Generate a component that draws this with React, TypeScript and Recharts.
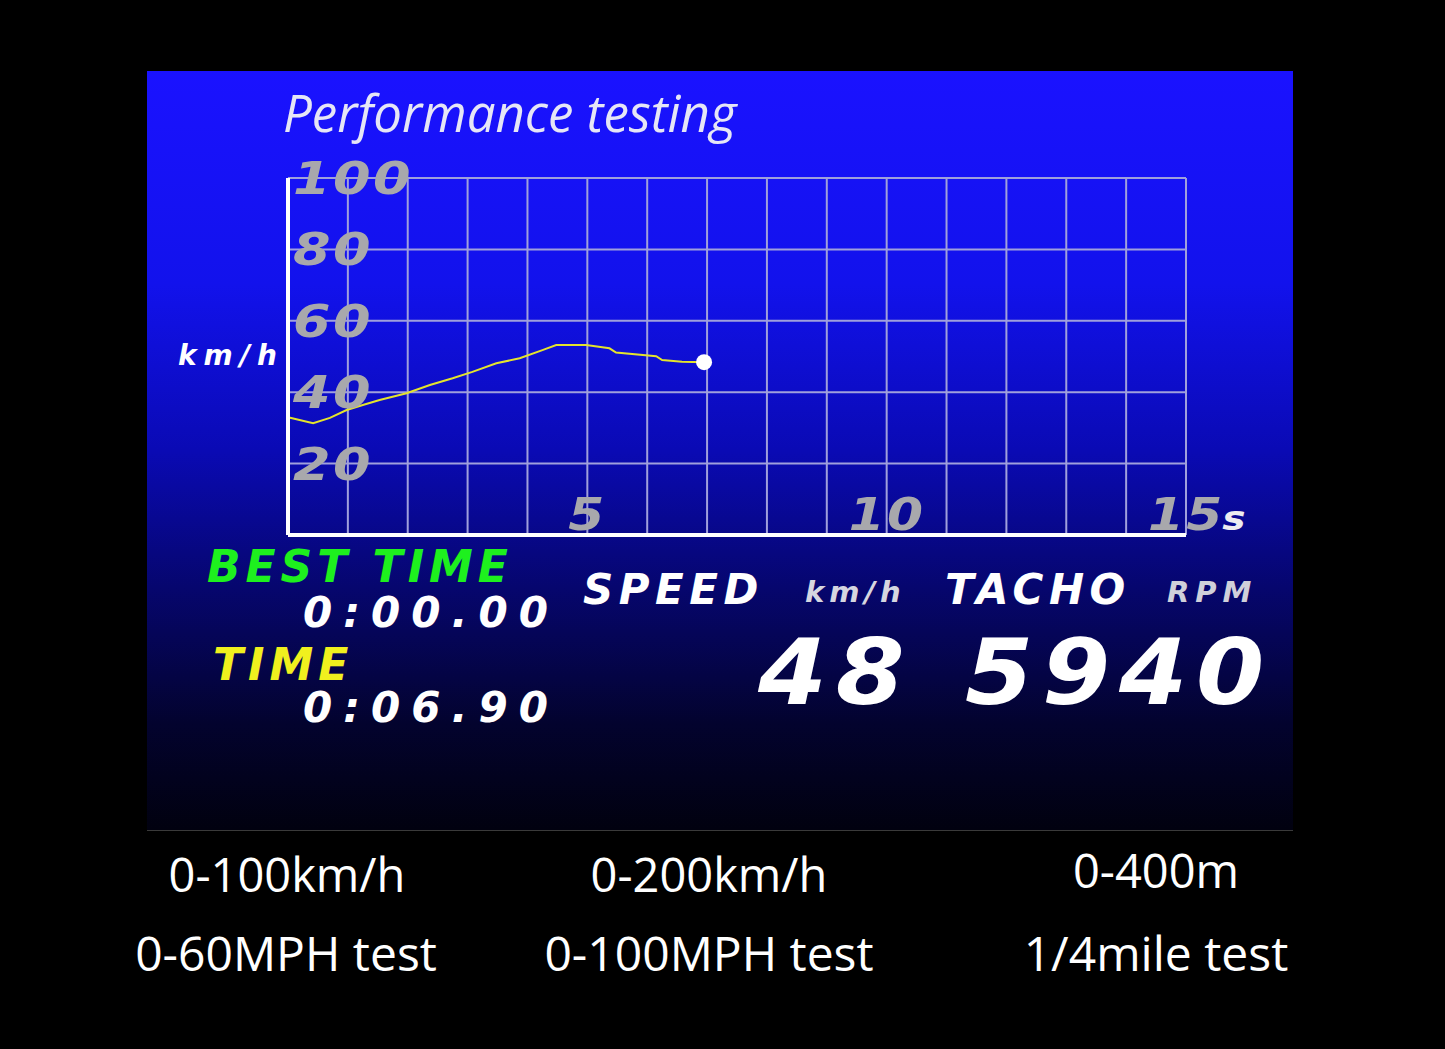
import { LineChart, Line, XAxis, YAxis, CartesianGrid } from 'recharts';

// elapsed time (s) and speed (km/h)
const times = [0, 0.42, 0.7, 0.98, 1.25, 1.53, 1.98, 2.37, 2.75, 3.08, 3.48, 3.87, 4.25, 4.48, 4.98, 5.37, 5.48, 6.15, 6.25, 6.58, 6.95];
const speeds = [33.0, 31.3, 32.8, 35.0, 36.4, 37.8, 39.7, 42.0, 43.9, 45.7, 48.1, 49.5, 51.8, 53.2, 53.2, 52.3, 51.1, 50.1, 49.0, 48.5, 48.4];

const xGridTicks = [0, 1, 2, 3, 4, 5, 6, 7, 8, 9, 10, 11, 12, 13, 14, 15];
const xLabelTicks = [5, 10, 15];
const xLabelTexts = ['5', '10', '15'];
const xLabelSuffix = ['', '', 's'];
const yTicks = [0, 20, 40, 60, 80, 100];
const yLabelTicks = [20, 40, 60, 80, 100];

const bestTime = '0:00.00';
const lastTime = '0:06.90';
const speedNow = '48';
const rpmNow = '5940';

const modesTop = ['0-100km/h', '0-200km/h', '0-400m'];
const modesBottom = ['0-60MPH test', '0-100MPH test', '1/4mile test'];

const data = times.map((t, i) => ({ t, v: speeds[i] }));

const DASH = '"DejaVu Sans", sans-serif';
const tickFill = '#a8a8ac';

function XTick(props: any) {
  const { x, payload } = props;
  const idx = xLabelTicks.indexOf(payload.value);
  if (idx < 0) return null;
  const txt = xLabelTexts[idx];
  const half = txt.length * 16.5;
  return (
    <text transform={`translate(${x},530) scale(1.15,1)`} x={-half} y={0} textAnchor="start"
      fill={tickFill} fontFamily={DASH} fontWeight="bold" fontStyle="italic" fontSize={45}>
      <tspan letterSpacing={2}>{txt}</tspan>
      {xLabelSuffix[idx] && (
        <tspan fill="#ececf0" fontSize={34} dx={-2}>{xLabelSuffix[idx]}</tspan>
      )}
    </text>
  );
}

function YTick(props: any) {
  const { y, payload } = props;
  if (!yLabelTicks.includes(payload.value)) return null;
  return (
    <text transform={`translate(293,${y + 16}) scale(1.2,1)`} x={0} y={0} textAnchor="start"
      fill={tickFill} fontFamily={DASH} fontWeight="bold" fontStyle="italic" fontSize={45} letterSpacing={2}>
      {payload.value}
    </text>
  );
}

function EndDot(props: any) {
  const { cx, cy, index } = props;
  if (index !== data.length - 1) return <g key={index} />;
  return <circle key={index} cx={cx} cy={cy} r={8} fill="#ffffff" />;
}

const dashText = (extra: any) => ({
  position: 'absolute' as const,
  fontFamily: DASH,
  fontWeight: 'bold' as const,
  fontStyle: 'italic' as const,
  lineHeight: 1,
  whiteSpace: 'nowrap' as const,
  transformOrigin: 'left top',
  ...extra,
});

export default function App() {
  return (
    <div style={{ position: 'fixed', left: 0, top: 0, width: 1445, height: 1049, background: '#000', overflow: 'hidden' }}>
      <div style={{
        position: 'absolute', left: 147, top: 71, width: 1146, height: 760,
        background: 'linear-gradient(180deg, #1a12ff 0%, #1212ec 28%, #0a0ab4 50%, #06066e 68%, #03032e 86%, #01010f 100%)',
        borderBottom: '1px solid #3a3a3a', boxSizing: 'border-box',
      }} />

      <div style={{ position: 'absolute', left: 283, top: 87, color: '#e6e6f6', fontFamily: '"Open Sans", sans-serif',
        fontStyle: 'italic', fontSize: 51, lineHeight: 1, whiteSpace: 'nowrap' }}>
        Performance testing
      </div>

      <div style={dashText({ left: 178, top: 342, fontSize: 28, color: '#ffffff', letterSpacing: 7 })}>km/h</div>

      <div style={{ position: 'absolute', left: 0, top: 0 }}>
        <LineChart width={1445} height={1049} data={data}
          margin={{ top: 178, right: 259, bottom: 513, left: 287 }}>
          <CartesianGrid stroke="#a0a0dc" strokeWidth={2} horizontal vertical />
          <XAxis type="number" dataKey="t" domain={[0, 15]} ticks={xGridTicks} height={1}
            axisLine={{ stroke: '#ffffff', strokeWidth: 4 }} tickLine={false}
            tick={(p: any) => <XTick {...p} />} interval={0} />
          <YAxis type="number" domain={[0, 100]} ticks={yTicks} width={1}
            axisLine={{ stroke: '#ffffff', strokeWidth: 4 }} tickLine={false}
            tick={(p: any) => <YTick {...p} />} interval={0} />
          <Line type="linear" dataKey="v" stroke="#e4e42c" strokeWidth={2} dot={<EndDot />}
            activeDot={false} isAnimationActive={false} />
        </LineChart>
      </div>

      <div style={dashText({ left: 207, top: 545, fontSize: 44, color: '#1ef01e', letterSpacing: 5 })}>BEST TIME</div>
      <div style={dashText({ left: 303, top: 592, fontSize: 42, color: '#ffffff', letterSpacing: 11 })}>{bestTime}</div>
      <div style={dashText({ left: 213, top: 643, fontSize: 44, color: '#f0f01e', letterSpacing: 5 })}>TIME</div>
      <div style={dashText({ left: 303, top: 687, fontSize: 42, color: '#ffffff', letterSpacing: 11 })}>{lastTime}</div>

      <div style={dashText({ left: 583, top: 569, fontSize: 42, color: '#ffffff', letterSpacing: 5.5 })}>SPEED</div>
      <div style={dashText({ left: 805, top: 578, fontSize: 29, color: '#d6d6e0', letterSpacing: 5 })}>km/h</div>
      <div style={dashText({ left: 945, top: 569, fontSize: 42, color: '#ffffff', letterSpacing: 5.5 })}>TACHO</div>
      <div style={dashText({ left: 1167, top: 578, fontSize: 29, color: '#d0d0da', letterSpacing: 6 })}>RPM</div>

      <div style={dashText({ left: 758, top: 628, fontSize: 90, color: '#ffffff', letterSpacing: 8, transform: 'scaleX(1.1)' })}>{speedNow}</div>
      <div style={dashText({ left: 965, top: 628, fontSize: 90, color: '#ffffff', letterSpacing: 8, transform: 'scaleX(1.09)' })}>{rpmNow}</div>

      {[287, 709, 1156].map((cx, i) => (
        <div key={'t' + i} style={{ position: 'absolute', left: cx - 250, width: 500, top: 846 - (i === 2 ? 4 : 0),
          textAlign: 'center', color: '#ffffff', fontFamily: '"Open Sans", sans-serif', fontSize: 47, lineHeight: 1.2 }}>
          {modesTop[i]}
        </div>
      ))}
      {[286, 709, 1156].map((cx, i) => (
        <div key={'b' + i} style={{ position: 'absolute', left: cx - 250, width: 500, top: 924,
          textAlign: 'center', color: '#ffffff', fontFamily: '"Open Sans", sans-serif', fontSize: 48, lineHeight: 1.2 }}>
          {modesBottom[i]}
        </div>
      ))}
    </div>
  );
}
